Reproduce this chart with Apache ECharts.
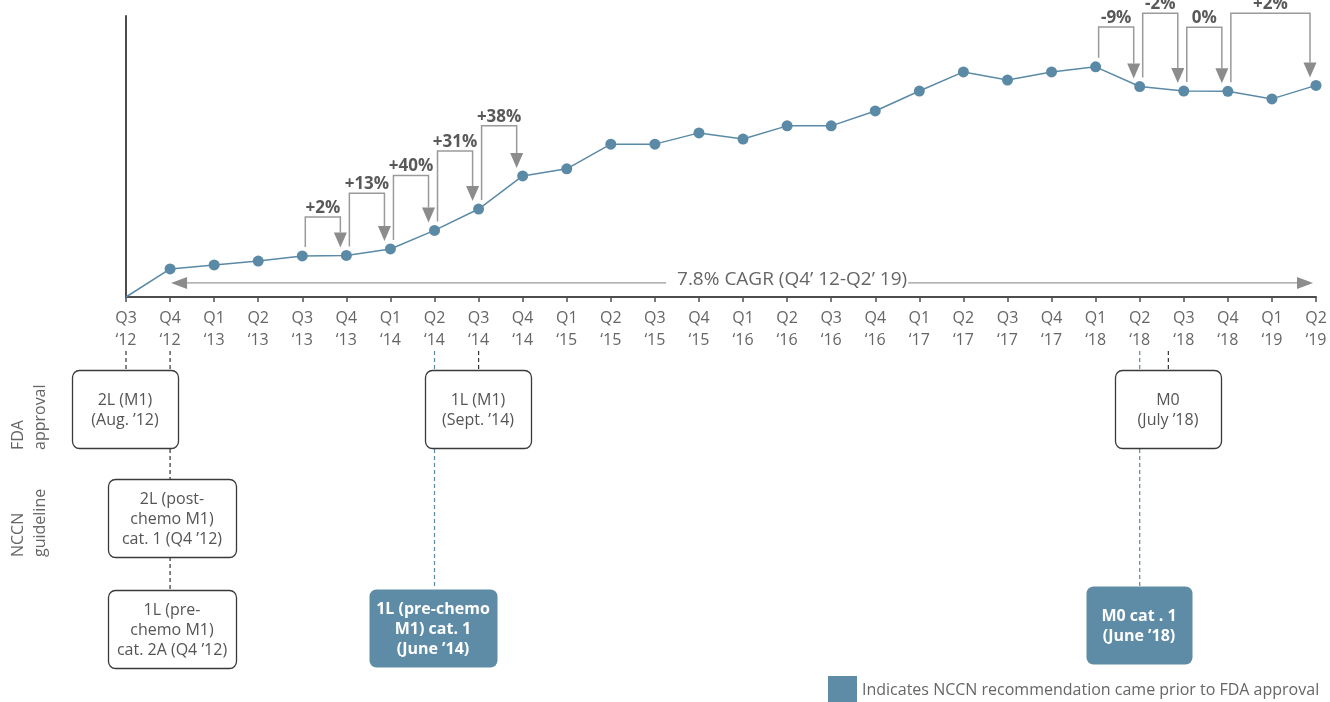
<!DOCTYPE html>
<html>
<head>
<meta charset="utf-8">
<script src="https://cdn.jsdelivr.net/npm/echarts@6/dist/echarts.min.js"></script>
<style>
  html, body { margin: 0; padding: 0; background: #fff; }
  #chart { width: 1330px; height: 702px; }
</style>
</head>
<body>
<div id="chart"></div>
<script>
// Quarterly categories (x axis tick labels)
const quarters = [
  'Q3\n‘12', 'Q4\n‘12', 'Q1\n‘13', 'Q2\n‘13', 'Q3\n‘13', 'Q4\n‘13', 'Q1\n‘14',
  'Q2\n‘14', 'Q3\n‘14', 'Q4\n‘14', 'Q1\n‘15', 'Q2\n‘15', 'Q3\n‘15', 'Q4\n‘15',
  'Q1\n‘16', 'Q2\n‘16', 'Q3\n‘16', 'Q4\n‘16', 'Q1\n‘17', 'Q2\n‘17', 'Q3\n‘17',
  'Q4\n‘17', 'Q1\n‘18', 'Q2\n‘18', 'Q3\n‘18', 'Q4\n‘18', 'Q1\n‘19', 'Q2\n‘19'
];

// Relative sales index per quarter (axis runs 0–100, unlabelled)
const salesIndex = [
  0, 10.0, 11.4, 12.8, 14.6, 14.8, 17.1, 23.7, 31.3, 43.1, 45.6, 54.4, 54.4, 58.4,
  56.2, 60.9, 60.9, 66.2, 73.3, 80.1, 77.2, 80.1, 81.9, 74.9, 73.3, 73.2, 70.5, 75.3
];

// Growth call-outs: label, start quarter index, end quarter index, bracket height
const growthLabels = ['+2%', '+13%', '+40%', '+31%', '+38%', '-9%', '-2%', '0%', '+2%'];
const growthFrom   = [4, 5, 6, 7, 8, 22, 23, 24, 25];
const growthTo     = [5, 6, 7, 8, 9, 23, 24, 25, 27];
const growthTop    = [28.5, 36.9, 43.2, 52.0, 60.9, 96.1, 101.0, 96.0, 101.0];

// CAGR span
const cagrLabel = '7.8% CAGR (Q4’ 12-Q2’ 19)';
const cagrFrom = 1;
const cagrTo = 27;
const cagrLevel = 5.0;
const cagrLabelAt = 15;

// Milestone boxes
const fdaApprovals = ['2L (M1)\n(Aug. ’12)', '1L (M1)\n(Sept. ’14)', 'M0\n(July ’18)'];
const nccnGuidelines = [
  '2L (post-\nchemo M1)\ncat. 1 (Q4 ’12)',
  '1L (pre-\nchemo M1)\ncat. 2A (Q4 ’12)',
  '1L (pre-chemo\nM1) cat. 1\n(June ’14)',
  'M0 cat . 1\n(June ’18)'
];
const legendText = 'Indicates NCCN recommendation came prior to FDA approval';

const LINE_BLUE = '#5b8aa6';
const BOX_BLUE = '#5e8ba5';
const FONT = '"Open Sans", "Noto Sans", sans-serif';

const chart = echarts.init(document.getElementById('chart'), null, { renderer: 'canvas' });

chart.setOption({
  animation: false,
  backgroundColor: '#fff',
  grid: { left: 126, right: 14, top: 16, bottom: 405, containLabel: false },
  xAxis: {
    type: 'category',
    data: quarters,
    boundaryGap: false,
    axisLine: { lineStyle: { color: '#4d4d4d', width: 2 } },
    axisTick: { show: true, length: 5, lineStyle: { color: '#4d4d4d', width: 1.5 } },
    axisLabel: {
      interval: 0, margin: 10, fontSize: 16, lineHeight: 22,
      color: '#666', fontFamily: FONT
    },
    splitLine: { show: false }
  },
  yAxis: {
    type: 'value', min: 0, max: 100,
    axisLine: { show: true, lineStyle: { color: '#4d4d4d', width: 2 } },
    axisTick: { show: false },
    axisLabel: { show: false },
    splitLine: { show: false }
  },
  series: [
    {
      type: 'line',
      data: salesIndex.map((v, i) => (i === 0 ? { value: v, symbol: 'none' } : v)),
      symbol: 'circle',
      symbolSize: 11,
      itemStyle: { color: LINE_BLUE },
      lineStyle: { color: LINE_BLUE, width: 1.5 },
      silent: true,
      z: 4
    },
    {
      // quarter-over-quarter growth brackets
      type: 'custom',
      silent: true,
      z: 3,
      data: growthFrom.map((f, i) => [f, growthTop[i]]),
      encode: { x: 0, y: 1 },
      renderItem: function (params, api) {
        const i = params.dataIndex;
        const s = api.coord([growthFrom[i], salesIndex[growthFrom[i]]]);
        const e = api.coord([growthTo[i], salesIndex[growthTo[i]]]);
        const top = api.coord([growthFrom[i], growthTop[i]])[1];
        const xl = s[0] + 3, xr = e[0] - 6;
        const yb = s[1] - 9, tip = e[1] - 8, head = 15, hw = 6.5;
        return {
          type: 'group',
          children: [
            {
              type: 'polyline',
              shape: { points: [[xl, yb], [xl, top], [xr, top], [xr, tip - head]] },
              style: { stroke: '#9a9a9a', lineWidth: 1.5, fill: 'none' }
            },
            {
              type: 'polygon',
              shape: { points: [[xr - hw, tip - head], [xr + hw, tip - head], [xr, tip]] },
              style: { fill: '#8c8c8c' }
            },
            {
              type: 'text',
              x: (xl + xr) / 2, y: top - 9,
              style: {
                text: growthLabels[i], textAlign: 'center', textVerticalAlign: 'middle',
                font: 'bold 17px ' + FONT, fill: '#595959'
              }
            }
          ]
        };
      }
    },
    {
      // CAGR double-headed arrow
      type: 'custom',
      silent: true,
      z: 2,
      data: [[cagrFrom, cagrLevel]],
      encode: { x: 0, y: 1 },
      renderItem: function (params, api) {
        const a = api.coord([cagrFrom, cagrLevel]);
        const b = api.coord([cagrTo, cagrLevel]);
        const c = api.coord([cagrLabelAt, cagrLevel]);
        const y = a[1];
        const lt = a[0] + 1, rt = b[0] - 3, head = 16, hw = 6;
        return {
          type: 'group',
          children: [
            {
              type: 'line',
              shape: { x1: lt + head, y1: y, x2: rt - head, y2: y },
              style: { stroke: '#9a9a9a', lineWidth: 1.2 }
            },
            {
              type: 'polygon',
              shape: { points: [[lt, y], [lt + head, y - hw], [lt + head, y + hw]] },
              style: { fill: '#8c8c8c' }
            },
            {
              type: 'polygon',
              shape: { points: [[rt, y], [rt - head, y - hw], [rt - head, y + hw]] },
              style: { fill: '#8c8c8c' }
            },
            {
              type: 'text',
              x: c[0], y: y - 3.5,
              style: {
                text: cagrLabel, textAlign: 'center', textVerticalAlign: 'middle',
                font: '19px ' + FONT, fill: '#666',
                backgroundColor: '#fff', padding: [0, 1, 0, 11]
              }
            }
          ]
        };
      }
    }
  ]
});

// Milestone timeline beneath the axis
const p0 = chart.convertToPixel({ xAxisIndex: 0 }, 0);
const pN = chart.convertToPixel({ xAxisIndex: 0 }, quarters.length - 1);
const xAt = (i) => p0 + (pN - p0) * i / (quarters.length - 1);

function dashed(x, y1, y2, color) {
  return {
    type: 'line', silent: true,
    shape: { x1: x, y1: y1, x2: x, y2: y2 },
    style: { stroke: color, lineWidth: 1.2, lineDash: [4, 3] }
  };
}
function box(x, y, w, h, text, filled) {
  return [
    {
      type: 'rect', silent: true,
      shape: { x: x + 0.5, y: y + 0.5, width: w, height: h, r: 7 },
      style: filled ? { fill: BOX_BLUE } : { fill: '#fff', stroke: '#3a3a3a', lineWidth: 1.3 }
    },
    {
      type: 'text', silent: true,
      x: x + w / 2, y: y + h / 2 + 1,
      style: {
        text: text, textAlign: 'center', textVerticalAlign: 'middle', lineHeight: 20,
        font: (filled ? 'bold ' : '') + '16px ' + FONT,
        fill: filled ? '#fff' : '#555'
      }
    }
  ];
}

const DARK = '#333';
const elements = [
  // connectors
  dashed(xAt(0), 351, 370, DARK),
  dashed(xAt(1), 351, 370, DARK),
  dashed(xAt(1), 449, 479, DARK),
  dashed(xAt(1), 557, 590, DARK),
  dashed(xAt(7), 351, 370, LINE_BLUE),
  dashed(xAt(7), 449, 589, LINE_BLUE),
  dashed(xAt(8), 351, 370, DARK),
  dashed(xAt(23), 351, 370, LINE_BLUE),
  dashed(xAt(23), 449, 586, LINE_BLUE),
  dashed(xAt(23.65), 351, 370, DARK),
  // boxes
  ...box(72, 370, 106, 78, fdaApprovals[0], false),
  ...box(425, 370, 106, 78, fdaApprovals[1], false),
  ...box(1115, 370, 106, 78, fdaApprovals[2], false),
  ...box(108, 479, 128, 78, nccnGuidelines[0], false),
  ...box(108, 590, 128, 78, nccnGuidelines[1], false),
  ...box(369, 589, 128, 78, nccnGuidelines[2], true),
  ...box(1086, 586, 106, 78, nccnGuidelines[3], true),
  // row titles
  {
    type: 'text', silent: true, x: 29, y: 450, rotation: Math.PI / 2,
    style: {
      text: 'FDA\napproval', textAlign: 'left', textVerticalAlign: 'middle',
      lineHeight: 22, font: '16px ' + FONT, fill: '#666'
    }
  },
  {
    type: 'text', silent: true, x: 29, y: 557, rotation: Math.PI / 2,
    style: {
      text: 'NCCN\nguideline', textAlign: 'left', textVerticalAlign: 'middle',
      lineHeight: 22, font: '16px ' + FONT, fill: '#666'
    }
  },
  // legend
  {
    type: 'rect', silent: true,
    shape: { x: 828, y: 676, width: 29, height: 26 },
    style: { fill: BOX_BLUE }
  },
  {
    type: 'text', silent: true, x: 862, y: 690,
    style: {
      text: legendText, textAlign: 'left', textVerticalAlign: 'middle',
      font: '16px ' + FONT, fill: '#666'
    }
  }
];

chart.setOption({ graphic: elements });
</script>
</body>
</html>
